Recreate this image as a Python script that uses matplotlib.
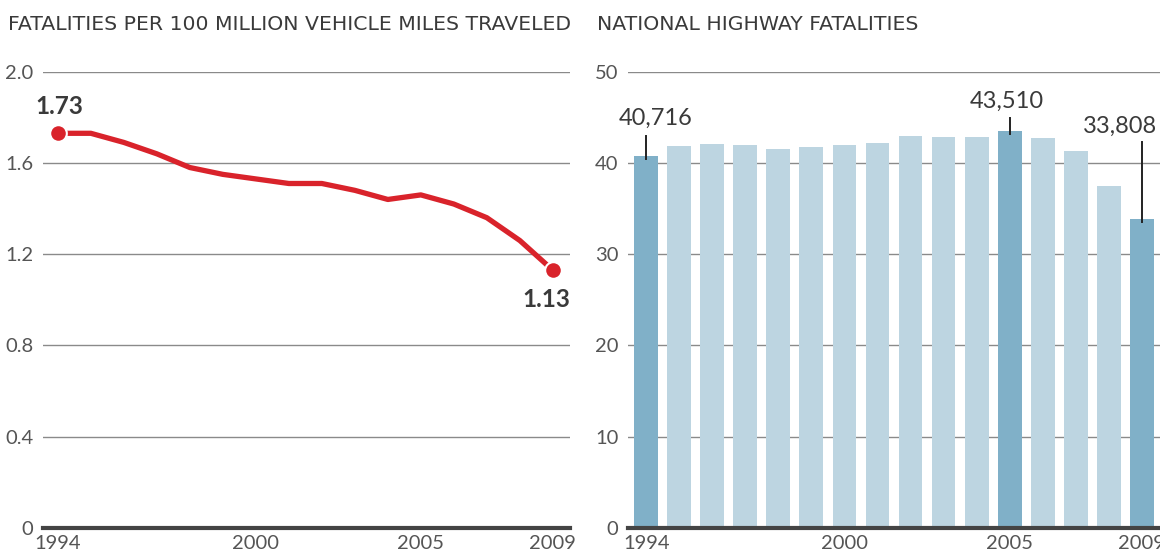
import matplotlib
matplotlib.use("Agg")
import matplotlib.pyplot as plt

years = list(range(1994, 2010))
rate = [1.73, 1.73, 1.69, 1.64, 1.58, 1.55, 1.53, 1.51, 1.51, 1.48, 1.44, 1.46, 1.42, 1.36, 1.26, 1.13]
fatalities = [40.716, 41.817, 42.065, 42.013, 41.501, 41.717, 41.945, 42.196, 43.005,
              42.884, 42.836, 43.510, 42.708, 41.259, 37.423, 33.808]
highlight_years = [1994, 2005, 2009]
bar_labels = {1994: "40,716", 2005: "43,510", 2009: "33,808"}
left_yticks = [0, 0.4, 0.8, 1.2, 1.6, 2.0]
left_yticklabels = ["0", "0.4", "0.8", "1.2", "1.6", "2.0"]
right_yticks = [0, 10, 20, 30, 40, 50]
xtick_years = [1994, 2000, 2005, 2009]
title_left = "FATALITIES PER 100 MILLION VEHICLE MILES TRAVELED"
title_right = "NATIONAL HIGHWAY FATALITIES"

FONT = ["Lato", "DejaVu Sans"]
TFONT = ["DejaVu Sans"]
TXT = "#3a3a3a"
TICK = "#555555"
GRID = "#8a8a8a"
BASE = "#444444"
RED = "#d9232b"
LIGHT = "#bdd5e1"
DARK = "#80b0c8"

W, H = 1160, 554
fig = plt.figure(figsize=(W / 100, H / 100), dpi=100)
fig.patch.set_facecolor("white")

def frac_box(x0, x1, ytop, ybot):
    return [x0 / W, 1 - ybot / H, (x1 - x0) / W, (ybot - ytop) / H]

axL = fig.add_axes(frac_box(43, 570, 71.7, 528))
axR = fig.add_axes(frac_box(628, 1160, 71.7, 528))

for ax in (axL, axR):
    for s in ax.spines.values():
        s.set_visible(False)
    ax.tick_params(length=0, labelsize=14.5, labelcolor=TICK)

# ---- Left: line chart
axL.set_xlim(1993.55, 2009.52)
axL.set_ylim(0, 2.0)
axL.set_yticks(left_yticks)
axL.set_yticklabels(left_yticklabels, family=FONT, color=TICK)
axL.set_xticks(xtick_years)
axL.set_xticklabels([str(y) for y in xtick_years], family=FONT, color=TICK)
axL.tick_params(axis="y", pad=7)
axL.tick_params(axis="x", pad=5)
for v in left_yticks[1:]:
    axL.axhline(v, color=GRID, lw=1.0, zorder=1)
axL.axhline(0, color=BASE, lw=3, zorder=3, clip_on=False)
axL.plot(years, rate, color=RED, lw=3.8, solid_capstyle="butt", zorder=4, clip_on=False)
axL.plot([years[0], years[-1]], [rate[0], rate[-1]], "o", color=RED, ms=12,
         mec="white", mew=1.5, zorder=5, clip_on=False)
axL.text(years[0] + 0.05, 1.846, "1.73", ha="center", va="center", fontsize=17.5,
         fontweight="bold", color=TXT, family=FONT)
axL.text(years[-1] - 0.2, 1.003, "1.13", ha="center", va="center", fontsize=17.5,
         fontweight="bold", color=TXT, family=FONT)

# ---- Right: bar chart
idx = list(range(len(years)))
colors = [DARK if y in highlight_years else LIGHT for y in years]
axR.set_xlim(-0.55, 15.55)
axR.set_ylim(0, 50)
for v in right_yticks[1:]:
    axR.axhline(v, color=GRID, lw=1.0, zorder=1)
axR.bar(idx, fatalities, width=0.72, color=colors, zorder=2)
axR.axhline(0, color=BASE, lw=3, zorder=3, clip_on=False)
axR.set_yticks(right_yticks)
axR.set_yticklabels([str(v) for v in right_yticks], family=FONT, color=TICK)
axR.set_xticks([years.index(y) for y in xtick_years])
axR.set_xticklabels([str(y) for y in xtick_years], family=FONT, color=TICK)
axR.tick_params(axis="y", pad=7)
axR.tick_params(axis="x", pad=5)

label_pos = {1994: (0.3, 44.9, 43.0), 2005: (-0.1, 46.8, 44.9), 2009: (-0.65, 44.0, 42.3)}
for y in highlight_years:
    i = years.index(y)
    dx, ty, ltop = label_pos[y]
    val = fatalities[i]
    axR.plot([i, i], [ltop, val - 0.3], color="#222222", lw=1.4, zorder=4)
    axR.text(i + dx, ty, bar_labels[y], ha="center", va="center", fontsize=17,
             color=TXT, family=FONT, clip_on=False)

tL = fig.text(8 / W, 1 - 24 / H, title_left, ha="left", va="center", fontsize=13.5,
              color=TXT, family=TFONT)
tR = fig.text(597 / W, 1 - 24 / H, title_right, ha="left", va="center", fontsize=13.5,
              color=TXT, family=TFONT)
# fit the left title width to the reference width (562 px)
fig.canvas.draw()
r = fig.canvas.get_renderer()
wpx = tL.get_window_extent(r).width
fs = 13.5 * 562.0 / wpx
tL.set_fontsize(fs)
tR.set_fontsize(fs)

fig.savefig("out.png", dpi=100, facecolor="white")
